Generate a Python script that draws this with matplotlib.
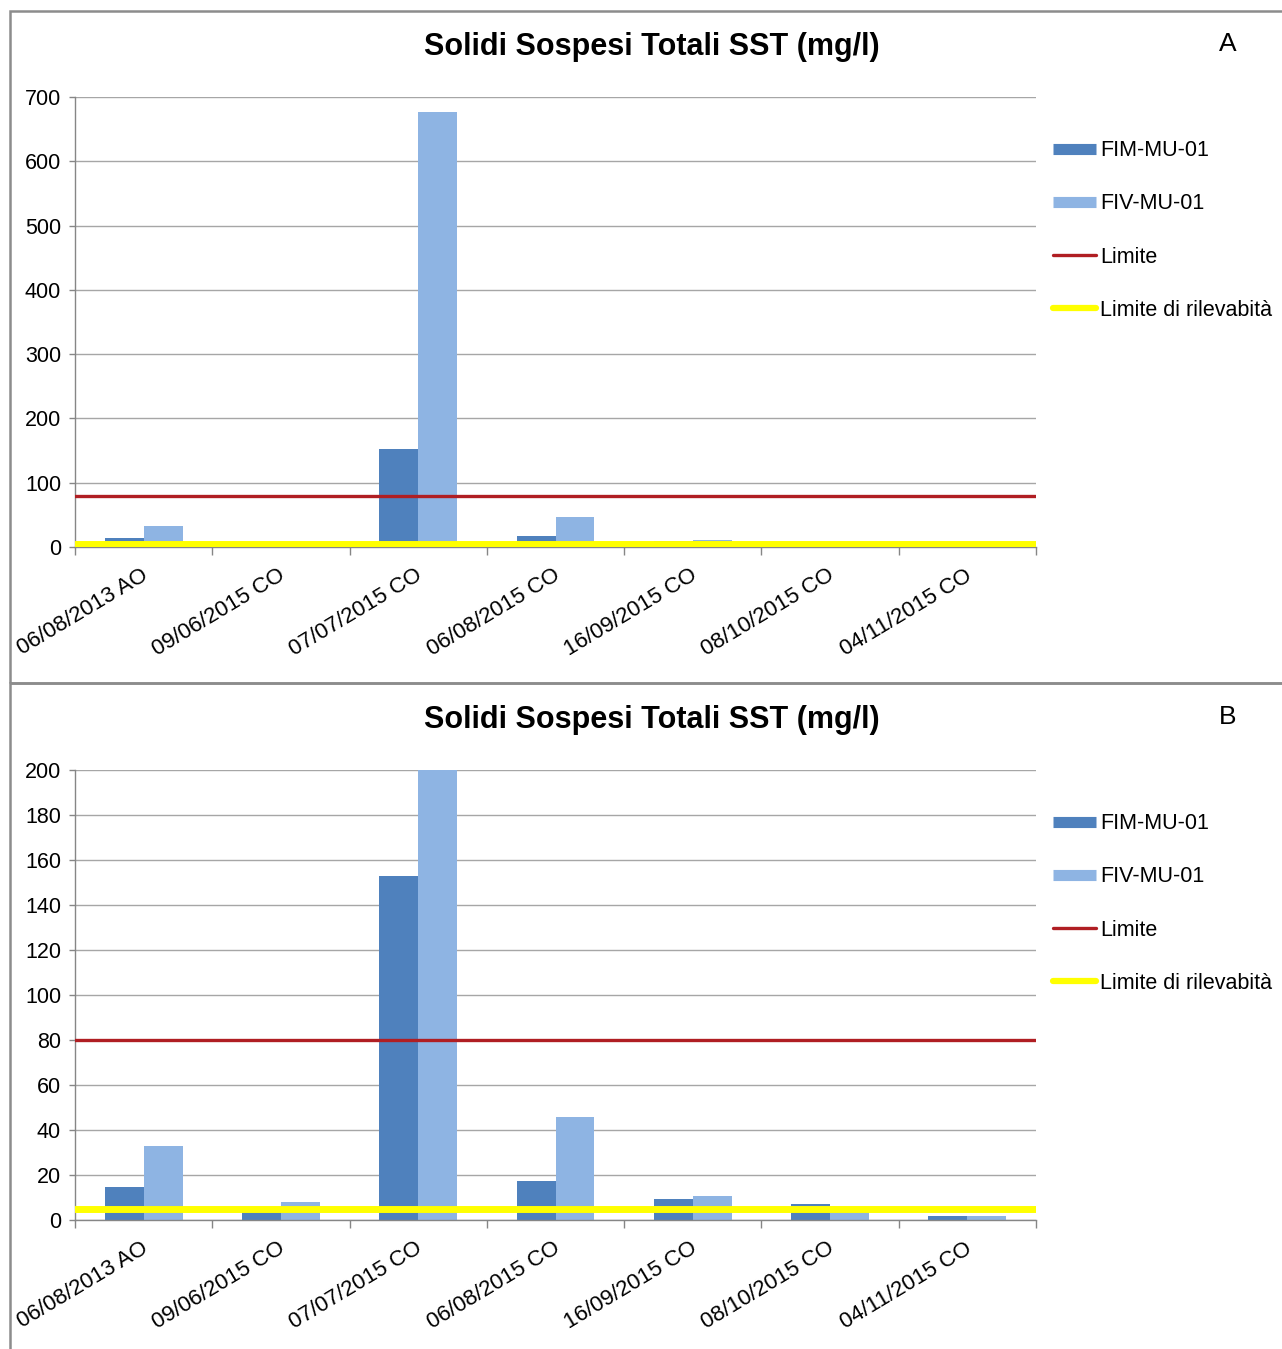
import matplotlib
matplotlib.use("Agg")
import matplotlib.pyplot as plt
from matplotlib.lines import Line2D
from matplotlib.patches import Rectangle
from matplotlib.transforms import ScaledTranslation
import numpy as np

# ---- data ----
dates = ["06/08/2013 AO", "09/06/2015 CO", "07/07/2015 CO", "06/08/2015 CO",
         "16/09/2015 CO", "08/10/2015 CO", "04/11/2015 CO"]
fim_mu_01 = [14.5, 4.5, 153, 17.5, 9.5, 7, 2]
fiv_mu_01 = [33, 8, 677, 46, 10.5, 4, 2]
limite = 80
limite_rilevabilita = 5

panels = ["A", "B"]
y_max = [700, 200]
y_step = [100, 20]

C_FIM = "#4F81BD"
C_FIV = "#8EB4E3"
C_LIM = "#B01E23"
C_RIL = "#FFFF00"
C_AXIS = "#868686"
C_GRID = "#A6A6A6"

plt.rcParams["font.family"] = ["Liberation Sans", "DejaVu Sans"]

W, H = 1282, 1349
fig = plt.figure(figsize=(W / 100, H / 100), dpi=100)
fig.patch.set_facecolor("white")

# panel frames
fig.add_artist(Rectangle((10 / W, 1 - 683 / H), 1.2, (683 - 11) / H,
                         transform=fig.transFigure, fill=False,
                         edgecolor="#8C8C8C", lw=1.8, zorder=0))
fig.add_artist(Rectangle((10 / W, -0.1), 1.2, 0.1 + 1 - 683 / H,
                         transform=fig.transFigure, fill=False,
                         edgecolor="#8C8C8C", lw=1.8, zorder=0))

ax_bottom_px = [547, 1220]
bar_w = 0.284
x = np.arange(len(dates)) + 0.5

for k, tag in enumerate(panels):
    bpx = ax_bottom_px[k]
    ax = fig.add_axes([75 / W, 1 - bpx / H, 961 / W, 450 / H])
    ax.set_facecolor("none")

    ax.bar(x - bar_w / 2, fim_mu_01, width=bar_w, color=C_FIM, zorder=2)
    ax.bar(x + bar_w / 2, fiv_mu_01, width=bar_w, color=C_FIV, zorder=2)
    ax.axhline(limite, color=C_LIM, lw=2.4, zorder=3)
    ax.axhline(limite_rilevabilita, color=C_RIL, lw=5, zorder=3)

    ax.set_xlim(0, len(dates))
    ax.set_ylim(0, y_max[k])
    ax.set_yticks(np.arange(0, y_max[k] + 1, y_step[k]))
    ax.yaxis.grid(True, color=C_GRID, lw=1)
    ax.set_axisbelow(True)

    ax.set_xticks(np.arange(len(dates) + 1))
    ax.set_xticklabels([])
    ax.set_xticks(x, minor=True)
    ax.set_xticklabels(dates, minor=True, rotation=31, ha="right",
                       rotation_mode="anchor", fontsize=16)
    ax.tick_params(axis="x", which="major", length=6, color=C_AXIS, width=1)
    ax.tick_params(axis="x", which="minor", length=0, pad=13)
    ax.tick_params(axis="y", length=4, color=C_AXIS, width=1,
                   labelsize=15.5, pad=6)
    for lab in ax.get_xticklabels(minor=True):
        lab.set_transform(lab.get_transform() +
                          ScaledTranslation(-0.03, 0, fig.dpi_scale_trans))

    for s in ["top", "right"]:
        ax.spines[s].set_visible(False)
    for s in ["left", "bottom"]:
        ax.spines[s].set_color(C_AXIS)
        ax.spines[s].set_linewidth(1)

    top_px = bpx - 450
    fig.text(652 / W, 1 - (top_px - 50) / H, "Solidi Sospesi Totali SST (mg/l)",
             ha="center", va="center", fontsize=22, fontweight="bold")
    fig.text(1228 / W, 1 - (top_px - 53) / H, tag, ha="center", va="center",
             fontsize=19)

    handles = [
        Line2D([], [], color=C_FIM, lw=8, solid_capstyle="butt"),
        Line2D([], [], color=C_FIV, lw=8, solid_capstyle="butt"),
        Line2D([], [], color=C_LIM, lw=2.4, solid_capstyle="round"),
        Line2D([], [], color=C_RIL, lw=4.5, solid_capstyle="round"),
    ]
    labels = ["FIM-MU-01", "FIV-MU-01", "Limite", "Limite di rilevabità"]
    ax.legend(handles, labels, loc="center left",
              bbox_to_anchor=(1053 / W, 1 - (top_px + 133.5) / H),
              bbox_transform=fig.transFigure, frameon=False, fontsize=15.5,
              handlelength=2.0, handletextpad=0.2, labelspacing=1.5,
              borderpad=0, borderaxespad=0)

fig.savefig("out.png", dpi=100, facecolor="white")
